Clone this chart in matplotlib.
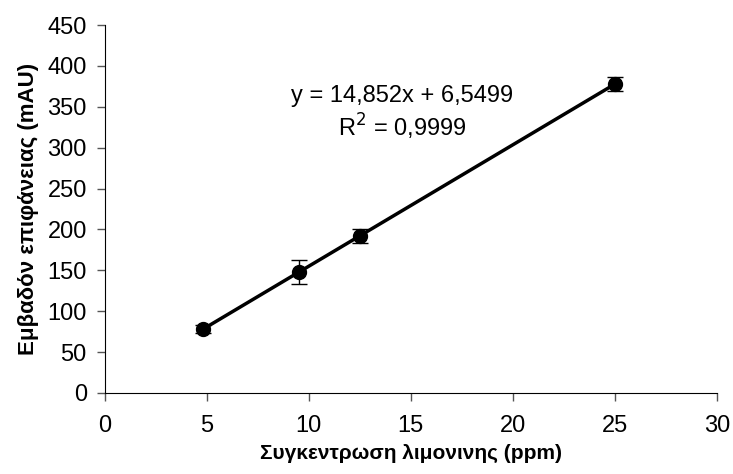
import numpy as np
import matplotlib
matplotlib.use("Agg")
import matplotlib.pyplot as plt

plt.rcParams["font.family"] = ["Liberation Sans", "DejaVu Sans"]

# calibration data
conc = [4.8, 9.5, 12.5, 25]
area = [78, 148, 192, 378]
err = [5, 15, 8, 8]
slope = 14.852
intercept = 6.5499

fig = plt.figure(figsize=(7.33, 4.74), dpi=100)
ax = fig.add_axes([0.143, 0.171, 0.835, 0.776])

xfit = np.array([min(conc), max(conc)])
ax.plot(xfit, slope * xfit + intercept, color="black", lw=2.5, zorder=2)
ax.errorbar(conc, area, yerr=err, fmt="o", color="black", ms=10,
            ecolor="black", elinewidth=1, capsize=6, capthick=1, zorder=3)

ax.text(14.56, 363, "y = 14,852x + 6,5499", fontsize=17, ha="center", va="center")
ax.text(14.56, 325, "R$^2$ = 0,9999", fontsize=17, ha="center", va="center")

ax.set_xlim(0, 30)
ax.set_ylim(0, 450)
ax.set_xticks(range(0, 31, 5))
ax.set_yticks(range(0, 451, 50))
ax.spines["top"].set_visible(False)
ax.spines["right"].set_visible(False)
ax.tick_params(labelsize=17, direction="out", length=6, width=1, color="#555555")
ax.tick_params(axis="x", pad=10)
ax.tick_params(axis="y", pad=7)
ax.set_xlabel("Συγκεντρωση λιμονινης (ppm)", fontsize=15, fontweight="bold", labelpad=5)
ax.set_ylabel("Εμβαδόν επιφάνειας (mAU)", fontsize=16, fontweight="bold", labelpad=6)

fig.savefig("out.png", dpi=100)
